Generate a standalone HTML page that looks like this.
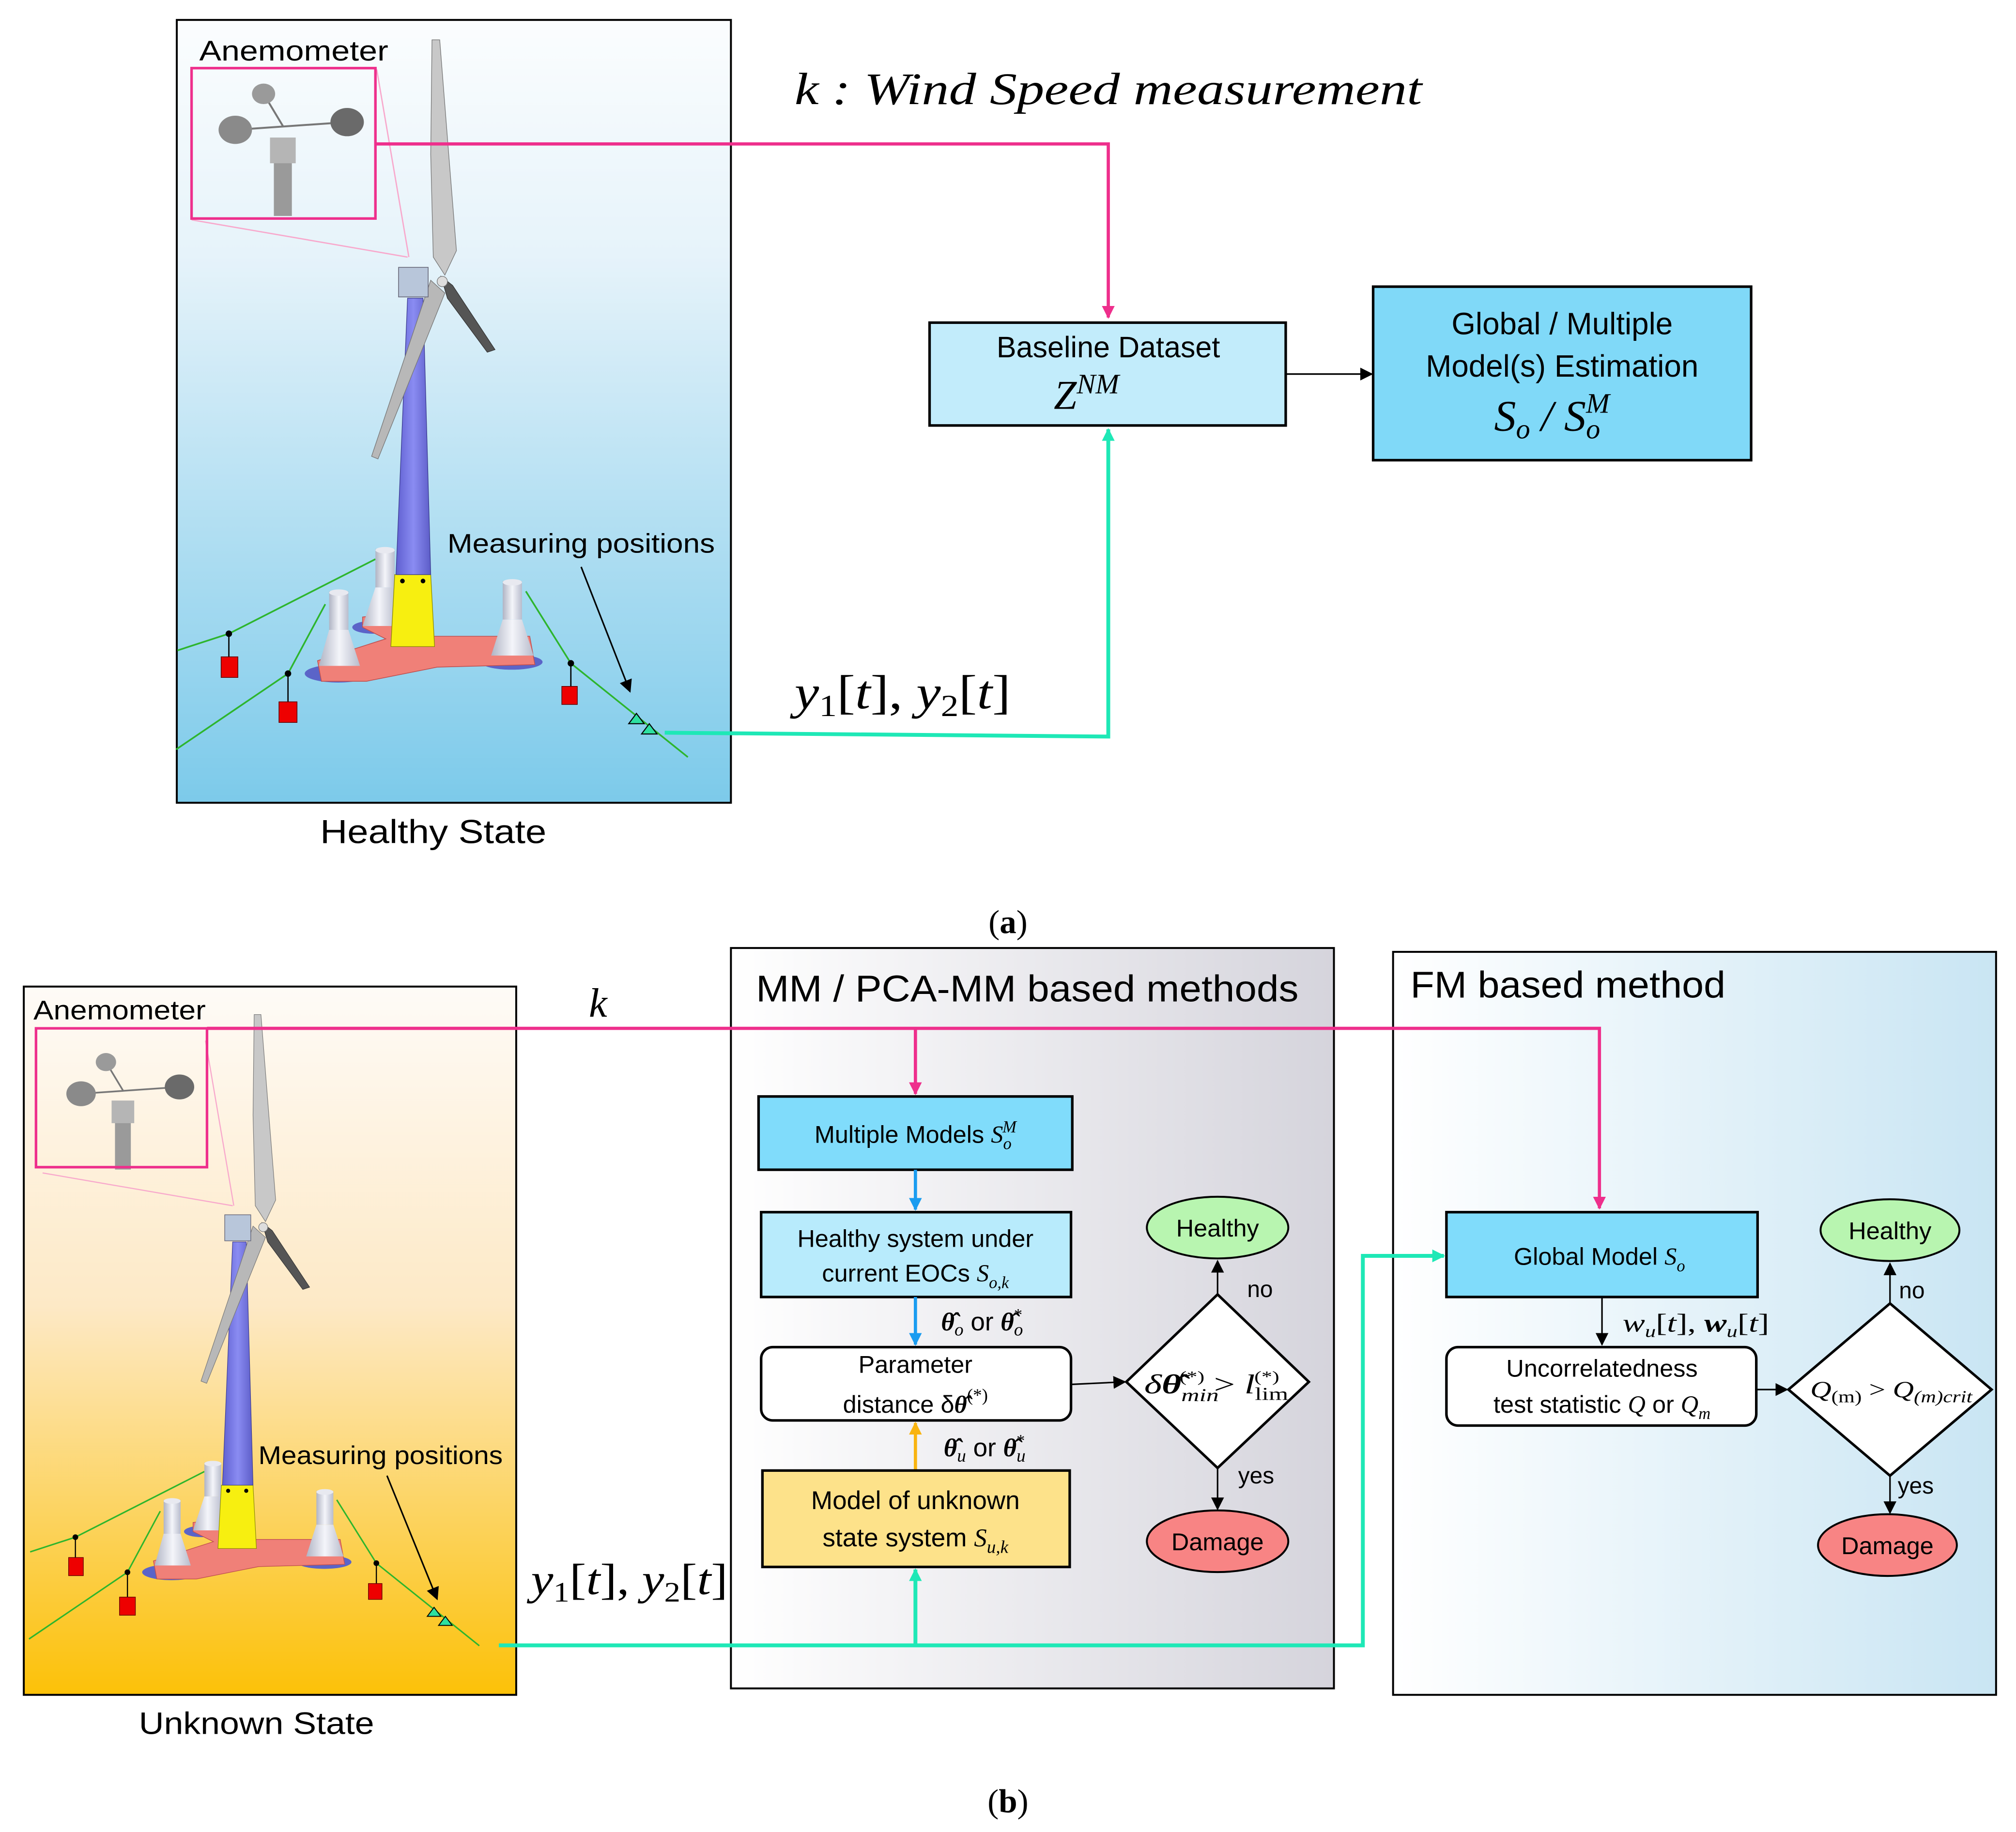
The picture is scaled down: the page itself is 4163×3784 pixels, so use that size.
<!DOCTYPE html>
<html><head><meta charset="utf-8"><style>html,body{margin:0;padding:0;background:#fff}svg{display:block}</style></head><body>
<svg xmlns="http://www.w3.org/2000/svg" xmlns:xlink="http://www.w3.org/1999/xlink" width="4163" height="3784" viewBox="0 0 1568 1425.2" preserveAspectRatio="none">
<defs>
<linearGradient id="ga" x1="0" y1="0" x2="0" y2="1"><stop offset="0" stop-color="#fbfdfe"/><stop offset="0.3" stop-color="#e6f3fa"/><stop offset="1" stop-color="#7ccaea"/></linearGradient>
<linearGradient id="gb" x1="0" y1="0" x2="0" y2="1"><stop offset="0" stop-color="#fefbf7"/><stop offset="0.45" stop-color="#fde9c6"/><stop offset="1" stop-color="#fcc108"/></linearGradient>
<linearGradient id="gmm" x1="0" y1="0" x2="1" y2="0"><stop offset="0" stop-color="#ffffff"/><stop offset="1" stop-color="#d5d4dc"/></linearGradient>
<linearGradient id="gfm" x1="0" y1="0" x2="1" y2="0"><stop offset="0" stop-color="#ffffff"/><stop offset="1" stop-color="#c9e5f3"/></linearGradient>
<linearGradient id="gtow" x1="0" y1="0" x2="1" y2="0"><stop offset="0" stop-color="#5f5fd0"/><stop offset="0.5" stop-color="#8a8cf2"/><stop offset="1" stop-color="#5d5dc8"/></linearGradient>
<linearGradient id="gfl" x1="0" y1="0" x2="1" y2="0"><stop offset="0" stop-color="#b0b4c4"/><stop offset="0.5" stop-color="#f4f5fa"/><stop offset="1" stop-color="#b8bccc"/></linearGradient>
<marker id="ak" markerWidth="10" markerHeight="10" refX="9" refY="5" orient="auto" markerUnits="userSpaceOnUse"><path d="M0,0 L10,5 L0,10 z" fill="#000"/></marker>
<marker id="ap" markerWidth="10" markerHeight="10" refX="9" refY="5" orient="auto" markerUnits="userSpaceOnUse"><path d="M0,0 L10,5 L0,10 z" fill="#ee2f8c"/></marker>
<marker id="at" markerWidth="10" markerHeight="10" refX="9" refY="5" orient="auto" markerUnits="userSpaceOnUse"><path d="M0,0 L10,5 L0,10 z" fill="#1ee8b6"/></marker>
<marker id="abl" markerWidth="10" markerHeight="10" refX="9" refY="5" orient="auto" markerUnits="userSpaceOnUse"><path d="M0,0 L10,5 L0,10 z" fill="#1a9cf0"/></marker>
<marker id="aor" markerWidth="10" markerHeight="10" refX="9" refY="5" orient="auto" markerUnits="userSpaceOnUse"><path d="M0,0 L10,5 L0,10 z" fill="#f9b410"/></marker>
<g id="turb">
 <rect x="213" y="112" width="14" height="56" fill="#9a9a9a"/>
 <rect x="210" y="107" width="20" height="20" fill="#b5b5b5"/>
 <line x1="183" y1="101" x2="270" y2="95" stroke="#777" stroke-width="1.5"/>
 <line x1="205" y1="73" x2="220" y2="98" stroke="#777" stroke-width="1.5"/>
 <ellipse cx="183" cy="101" rx="13" ry="11" fill="#8a8a8a"/>
 <ellipse cx="270" cy="95" rx="13" ry="11" fill="#6a6a6a"/>
 <ellipse cx="205" cy="73" rx="9" ry="8" fill="#9a9a9a"/>
 <line x1="293" y1="54" x2="318" y2="200" stroke="#f8a8cc" stroke-width="1"/>
 <line x1="149" y1="171" x2="317" y2="200" stroke="#f8a8cc" stroke-width="1"/>
 <polyline points="292,435 178,493 138,506" fill="none" stroke="#2db52d" stroke-width="1.3"/>
 <polyline points="253,470 224,524 137,583" fill="none" stroke="#2db52d" stroke-width="1.3"/>
 <polyline points="409,460 444,516 535,589" fill="none" stroke="#2db52d" stroke-width="1.3"/>
 <line x1="178" y1="493" x2="178" y2="511" stroke="#000"/><circle cx="178" cy="493" r="2.5"/>
 <rect x="172" y="511" width="13" height="16" fill="#e00" stroke="#600" stroke-width="0.6"/>
 <line x1="224" y1="524" x2="224" y2="546" stroke="#000"/><circle cx="224" cy="524" r="2.5"/>
 <rect x="217" y="546" width="14" height="16" fill="#e00" stroke="#600" stroke-width="0.6"/>
 <line x1="444" y1="516" x2="444" y2="534" stroke="#000"/><circle cx="444" cy="516" r="2.5"/>
 <rect x="437" y="534" width="12" height="14" fill="#e00" stroke="#600" stroke-width="0.6"/>
 <ellipse cx="263" cy="524" rx="26" ry="7" fill="#5b64c8"/>
 <ellipse cx="398" cy="515" rx="24" ry="6" fill="#5b64c8"/>
 <ellipse cx="290" cy="488" rx="16" ry="5" fill="#5b64c8"/>
 <polygon points="282,480 300,478 330,495 412,495 416,517 340,519 285,530 250,530 247,514 300,497 282,488" fill="#f08078" stroke="#c05050" stroke-width="0.6"/>
 <rect x="292" y="427" width="15" height="30" fill="url(#gfl)"/><polygon points="292,457 307,457 308,487 282,487" fill="url(#gfl)"/>
 <ellipse cx="299.5" cy="428" rx="7.5" ry="2.5" fill="#e8e9f0"/>
 <rect x="256" y="460" width="15" height="30" fill="url(#gfl)"/><polygon points="256,490 271,490 280,518 248,518" fill="url(#gfl)"/>
 <ellipse cx="263.5" cy="461" rx="7.5" ry="2.5" fill="#e8e9f0"/>
 <rect x="391" y="452" width="15" height="30" fill="url(#gfl)"/><polygon points="391,482 406,482 415,510 382,510" fill="url(#gfl)"/>
 <ellipse cx="398.5" cy="453" rx="7.5" ry="2.5" fill="#e8e9f0"/>
 <polygon points="307,447 335,447 338,503 304,503" fill="#f7ef10" stroke="#8a8a00" stroke-width="0.5"/>
 <circle cx="313" cy="452" r="1.8"/><circle cx="329" cy="452" r="1.8"/>
 <polygon points="317,232 329,232 335,447 308,447" fill="url(#gtow)" stroke="#3a3a90" stroke-width="0.5"/>
 <polygon points="335,218 346,228 294,357 289,355" fill="#b8b8b8" stroke="#777" stroke-width="0.5"/>
 <polygon points="343,215 352,222 385,272 379,274 348,232" fill="#555" stroke="#333" stroke-width="0.5"/>
 <polygon points="336,31 342,31 349,120 355,195 346,214 337,200 335,120" fill="#c8c8c8" stroke="#777" stroke-width="0.5"/>
 <rect x="310" y="208" width="23" height="23" fill="#b8c6da" stroke="#667" stroke-width="0.6"/>
 <circle cx="344" cy="219" r="4" fill="#ddd" stroke="#777" stroke-width="0.5"/>
 <polygon points="489,563 495,555 501,563" fill="#2de0a0" stroke="#000" stroke-width="0.8"/>
 <polygon points="499,571 505,563 511,571" fill="#2de0a0" stroke="#000" stroke-width="0.8"/>
</g>
</defs>
<rect width="1568" height="1425.2" fill="#fff"/>

<!-- ===== Panel (a) ===== -->
<rect x="137.5" y="15.5" width="431" height="609" fill="url(#ga)" stroke="#000" stroke-width="1.5"/>
<use xlink:href="#turb"/>
<rect x="149" y="53" width="143" height="117" fill="none" stroke="#ee2f8c" stroke-width="2"/>
<line x1="452" y1="441" x2="490" y2="538" stroke="#000" stroke-width="1.2" marker-end="url(#ak)"/>
<text x="155" y="47" font-family="Liberation Sans, sans-serif" font-size="22" textLength="147" lengthAdjust="spacingAndGlyphs">Anemometer</text>
<text x="348" y="430" font-family="Liberation Sans, sans-serif" font-size="21" textLength="208" lengthAdjust="spacingAndGlyphs">Measuring positions</text>
<text x="249" y="656" font-family="Liberation Sans, sans-serif" font-size="26" textLength="176" lengthAdjust="spacingAndGlyphs">Healthy State</text>

<polyline points="292,112 862,112 862,247" fill="none" stroke="#ee2f8c" stroke-width="2.5" marker-end="url(#ap)"/>
<polyline points="517,570 862,573 862,334" fill="none" stroke="#1ee8b6" stroke-width="3" marker-end="url(#at)"/>
<text x="618" y="81" font-family="Liberation Serif, serif" font-style="italic" font-size="35" textLength="488" lengthAdjust="spacingAndGlyphs">k : Wind Speed measurement</text>
<text x="618" y="551" font-family="Liberation Serif, serif" font-size="37" textLength="168" lengthAdjust="spacingAndGlyphs"><tspan font-style="italic">y</tspan><tspan font-size="24" dy="6">1</tspan><tspan dy="-6">[</tspan><tspan font-style="italic">t</tspan>], <tspan font-style="italic">y</tspan><tspan font-size="24" dy="6">2</tspan><tspan dy="-6">[</tspan><tspan font-style="italic">t</tspan>]</text>

<rect x="723" y="251" width="277" height="80" fill="#c2ecfb" stroke="#000" stroke-width="2"/>
<text x="862" y="278" text-anchor="middle" font-family="Liberation Sans, sans-serif" font-size="23">Baseline Dataset</text>
<text x="845" y="318" text-anchor="middle" font-family="Liberation Serif, serif" font-style="italic" font-size="32">Z<tspan font-size="22" dy="-12">NM</tspan></text>
<line x1="1000" y1="291" x2="1067" y2="291" stroke="#000" stroke-width="1.2" marker-end="url(#ak)"/>
<rect x="1068" y="223" width="294" height="135" fill="#80d9f8" stroke="#000" stroke-width="2"/>
<text x="1215" y="260" text-anchor="middle" font-family="Liberation Sans, sans-serif" font-size="24">Global / Multiple</text>
<text x="1215" y="293" text-anchor="middle" font-family="Liberation Sans, sans-serif" font-size="24">Model(s) Estimation</text>
<text x="1207" y="335" text-anchor="middle" font-family="Liberation Serif, serif" font-style="italic" font-size="34">S<tspan font-size="22" dy="6">o</tspan><tspan dy="-6"> / S</tspan><tspan font-size="22" dy="6">o</tspan><tspan font-size="22" dx="-11" dy="-20">M</tspan></text>
<text x="784" y="726" text-anchor="middle" font-family="Liberation Serif, serif" font-size="26">(<tspan font-weight="bold">a</tspan>)</text>

<!-- ===== Panel (b) ===== -->
<rect x="18.5" y="767.5" width="383" height="551" fill="url(#gb)" stroke="#000" stroke-width="1.5"/>
<svg x="18.5" y="767.5" width="383" height="551" viewBox="18.5 767.5 383 551" overflow="hidden">
<use xlink:href="#turb" transform="translate(-98,762) scale(0.88)"/>
</svg>
<rect x="28" y="800" width="133" height="108" fill="none" stroke="#ee2f8c" stroke-width="2"/>
<line x1="301" y1="1148" x2="340" y2="1244" stroke="#000" stroke-width="1.2" marker-end="url(#ak)"/>
<text x="26" y="793" font-family="Liberation Sans, sans-serif" font-size="21" textLength="134" lengthAdjust="spacingAndGlyphs">Anemometer</text>
<text x="201" y="1139" font-family="Liberation Sans, sans-serif" font-size="20" textLength="190" lengthAdjust="spacingAndGlyphs">Measuring positions</text>
<text x="108" y="1349" font-family="Liberation Sans, sans-serif" font-size="24" textLength="183" lengthAdjust="spacingAndGlyphs">Unknown State</text>

<rect x="568.5" y="737.5" width="469" height="576" fill="url(#gmm)" stroke="#000" stroke-width="1.5"/>
<text x="588" y="779" font-family="Liberation Sans, sans-serif" font-size="29" textLength="422" lengthAdjust="spacingAndGlyphs">MM / PCA-MM based methods</text>
<rect x="1083.5" y="740.5" width="469" height="578" fill="url(#gfm)" stroke="#000" stroke-width="1.5"/>
<text x="1097" y="776" font-family="Liberation Sans, sans-serif" font-size="29" textLength="245" lengthAdjust="spacingAndGlyphs">FM based method</text>

<polyline points="161,800 1244,800 1244,940" fill="none" stroke="#ee2f8c" stroke-width="2.5" marker-end="url(#ap)"/>
<line x1="712" y1="800" x2="712" y2="851" stroke="#ee2f8c" stroke-width="2.5" marker-end="url(#ap)"/>
<text x="458" y="791" font-family="Liberation Serif, serif" font-style="italic" font-size="32">k</text>

<polyline points="388,1280 1060,1280 1060,977 1123,977" fill="none" stroke="#1ee8b6" stroke-width="3" marker-end="url(#at)"/>
<line x1="712" y1="1280" x2="712" y2="1221" stroke="#1ee8b6" stroke-width="3" marker-end="url(#at)"/>
<text x="413" y="1240" font-family="Liberation Serif, serif" font-size="34" textLength="153" lengthAdjust="spacingAndGlyphs"><tspan font-style="italic">y</tspan><tspan font-size="22" dy="6">1</tspan><tspan dy="-6">[</tspan><tspan font-style="italic">t</tspan>], <tspan font-style="italic">y</tspan><tspan font-size="22" dy="6">2</tspan><tspan dy="-6">[</tspan><tspan font-style="italic">t</tspan>]</text>

<!-- MM flow -->
<rect x="590" y="853" width="244" height="57" fill="#80dcfb" stroke="#000" stroke-width="2"/>
<text x="712" y="889" text-anchor="middle" font-family="Liberation Sans, sans-serif" font-size="19">Multiple Models <tspan font-family="Liberation Serif, serif" font-style="italic">S</tspan><tspan font-family="Liberation Serif, serif" font-style="italic" font-size="13" dy="5">o</tspan><tspan font-family="Liberation Serif, serif" font-style="italic" font-size="13" dx="-7" dy="-13">M</tspan></text>
<line x1="712" y1="910" x2="712" y2="941" stroke="#1a9cf0" stroke-width="2.5" marker-end="url(#abl)"/>
<rect x="592" y="943" width="241" height="66" fill="#b8ebfc" stroke="#000" stroke-width="2"/>
<text x="712" y="970" text-anchor="middle" font-family="Liberation Sans, sans-serif" font-size="19">Healthy system under</text>
<text x="712" y="997" text-anchor="middle" font-family="Liberation Sans, sans-serif" font-size="19">current EOCs <tspan font-family="Liberation Serif, serif" font-style="italic">S</tspan><tspan font-family="Liberation Serif, serif" font-style="italic" font-size="13" dy="5">o,k</tspan></text>
<line x1="712" y1="1009" x2="712" y2="1046" stroke="#1a9cf0" stroke-width="2.5" marker-end="url(#abl)"/>
<text x="732" y="1035" font-family="Liberation Serif, serif" font-size="20"><tspan font-weight="bold" font-style="italic">θ̂</tspan><tspan font-style="italic" font-size="14" dy="4">o</tspan><tspan dy="-4" font-family="Liberation Sans, sans-serif"> or </tspan><tspan font-weight="bold" font-style="italic">θ̂</tspan><tspan font-style="italic" font-size="14" dy="4">o</tspan><tspan font-size="13" dx="-7" dy="-12">*</tspan></text>
<rect x="592" y="1048" width="241" height="57" rx="9" fill="#fff" stroke="#000" stroke-width="2"/>
<text x="712" y="1068" text-anchor="middle" font-family="Liberation Sans, sans-serif" font-size="19">Parameter</text>
<text x="712" y="1099" text-anchor="middle" font-family="Liberation Sans, sans-serif" font-size="19">distance δ<tspan font-family="Liberation Serif, serif" font-weight="bold" font-style="italic">θ̂</tspan><tspan font-family="Liberation Serif, serif" font-size="14" dy="-9">(*)</tspan></text>
<line x1="712" y1="1144" x2="712" y2="1107" stroke="#f9b410" stroke-width="2.5" marker-end="url(#aor)"/>
<text x="734" y="1133" font-family="Liberation Serif, serif" font-size="20"><tspan font-weight="bold" font-style="italic">θ̂</tspan><tspan font-style="italic" font-size="14" dy="4">u</tspan><tspan dy="-4" font-family="Liberation Sans, sans-serif"> or </tspan><tspan font-weight="bold" font-style="italic">θ̂</tspan><tspan font-style="italic" font-size="14" dy="4">u</tspan><tspan font-size="13" dx="-7" dy="-12">*</tspan></text>
<rect x="593" y="1144" width="239" height="75" fill="#fde28a" stroke="#000" stroke-width="2"/>
<text x="712" y="1174" text-anchor="middle" font-family="Liberation Sans, sans-serif" font-size="20">Model of unknown</text>
<text x="712" y="1203" text-anchor="middle" font-family="Liberation Sans, sans-serif" font-size="20">state system <tspan font-family="Liberation Serif, serif" font-style="italic">S</tspan><tspan font-family="Liberation Serif, serif" font-style="italic" font-size="14" dy="5">u,k</tspan></text>

<line x1="833" y1="1077" x2="875" y2="1075" stroke="#000" stroke-width="1.2" marker-end="url(#ak)"/>
<polygon points="947,1007 1018,1075 947,1142 876,1075" fill="#fff" stroke="#000" stroke-width="2"/>
<text x="946" y="1084" text-anchor="middle" font-family="Liberation Serif, serif" font-style="italic" font-size="21" textLength="112" lengthAdjust="spacingAndGlyphs">δ<tspan font-weight="bold">θ̂</tspan><tspan font-size="14" dy="6">min</tspan><tspan font-size="12" dx="-22" dy="-15" font-style="normal">(*)</tspan><tspan dy="9" font-style="normal"> &gt; </tspan>l<tspan font-size="14" dy="5" font-style="normal">lim</tspan><tspan font-size="12" dx="-19" dy="-14" font-style="normal">(*)</tspan></text>
<line x1="947" y1="1007" x2="947" y2="981" stroke="#000" stroke-width="1.2" marker-end="url(#ak)"/>
<line x1="947" y1="1142" x2="947" y2="1174" stroke="#000" stroke-width="1.2" marker-end="url(#ak)"/>
<ellipse cx="947" cy="955" rx="55" ry="24" fill="#b8f5b0" stroke="#000" stroke-width="1.5"/>
<text x="947" y="962" text-anchor="middle" font-family="Liberation Sans, sans-serif" font-size="19">Healthy</text>
<ellipse cx="947" cy="1199" rx="55" ry="24" fill="#f88484" stroke="#000" stroke-width="1.5"/>
<text x="947" y="1206" text-anchor="middle" font-family="Liberation Sans, sans-serif" font-size="19">Damage</text>
<text x="970" y="1009" font-family="Liberation Sans, sans-serif" font-size="18">no</text>
<text x="963" y="1154" font-family="Liberation Sans, sans-serif" font-size="18">yes</text>

<!-- FM flow -->
<rect x="1125" y="943" width="242" height="66" fill="#80dcfb" stroke="#000" stroke-width="2"/>
<text x="1244" y="984" text-anchor="middle" font-family="Liberation Sans, sans-serif" font-size="19">Global Model <tspan font-family="Liberation Serif, serif" font-style="italic">S</tspan><tspan font-family="Liberation Serif, serif" font-style="italic" font-size="13" dy="5">o</tspan></text>
<line x1="1246" y1="1009" x2="1246" y2="1046" stroke="#000" stroke-width="1.2" marker-end="url(#ak)"/>
<text x="1262" y="1036" font-family="Liberation Serif, serif" font-size="20" textLength="114" lengthAdjust="spacingAndGlyphs"><tspan font-style="italic">w</tspan><tspan font-style="italic" font-size="13" dy="4">u</tspan><tspan dy="-4">[</tspan><tspan font-style="italic">t</tspan>], <tspan font-style="italic" font-weight="bold">w</tspan><tspan font-style="italic" font-size="13" dy="4">u</tspan><tspan dy="-4">[</tspan><tspan font-style="italic">t</tspan>]</text>
<rect x="1125" y="1048" width="241" height="61" rx="9" fill="#fff" stroke="#000" stroke-width="2"/>
<text x="1246" y="1071" text-anchor="middle" font-family="Liberation Sans, sans-serif" font-size="19">Uncorrelatedness</text>
<text x="1246" y="1099" text-anchor="middle" font-family="Liberation Sans, sans-serif" font-size="19">test statistic <tspan font-family="Liberation Serif, serif" font-style="italic">Q</tspan> or <tspan font-family="Liberation Serif, serif" font-style="italic">Q</tspan><tspan font-family="Liberation Serif, serif" font-style="italic" font-size="13" dy="5">m</tspan></text>
<line x1="1366" y1="1081" x2="1390" y2="1081" stroke="#000" stroke-width="1.2" marker-end="url(#ak)"/>
<polygon points="1470,1014 1549,1081 1470,1148 1391,1081" fill="#fff" stroke="#000" stroke-width="2"/>
<text x="1471" y="1087" text-anchor="middle" font-family="Liberation Serif, serif" font-style="italic" font-size="18" textLength="126" lengthAdjust="spacingAndGlyphs">Q<tspan font-size="13" dy="4" font-style="normal">(m)</tspan><tspan dy="-4" font-style="normal"> &gt; </tspan>Q<tspan font-size="13" dy="4">(m)crit</tspan></text>
<line x1="1470" y1="1014" x2="1470" y2="983" stroke="#000" stroke-width="1.2" marker-end="url(#ak)"/>
<line x1="1470" y1="1148" x2="1470" y2="1177" stroke="#000" stroke-width="1.2" marker-end="url(#ak)"/>
<ellipse cx="1470" cy="957" rx="54" ry="24" fill="#b8f5b0" stroke="#000" stroke-width="1.5"/>
<text x="1470" y="964" text-anchor="middle" font-family="Liberation Sans, sans-serif" font-size="19">Healthy</text>
<ellipse cx="1468" cy="1202" rx="54" ry="24" fill="#f88484" stroke="#000" stroke-width="1.5"/>
<text x="1468" y="1209" text-anchor="middle" font-family="Liberation Sans, sans-serif" font-size="19">Damage</text>
<text x="1477" y="1010" font-family="Liberation Sans, sans-serif" font-size="18">no</text>
<text x="1476" y="1162" font-family="Liberation Sans, sans-serif" font-size="18">yes</text>

<text x="784" y="1410" text-anchor="middle" font-family="Liberation Serif, serif" font-size="26">(<tspan font-weight="bold">b</tspan>)</text>
</svg>
</body></html>
